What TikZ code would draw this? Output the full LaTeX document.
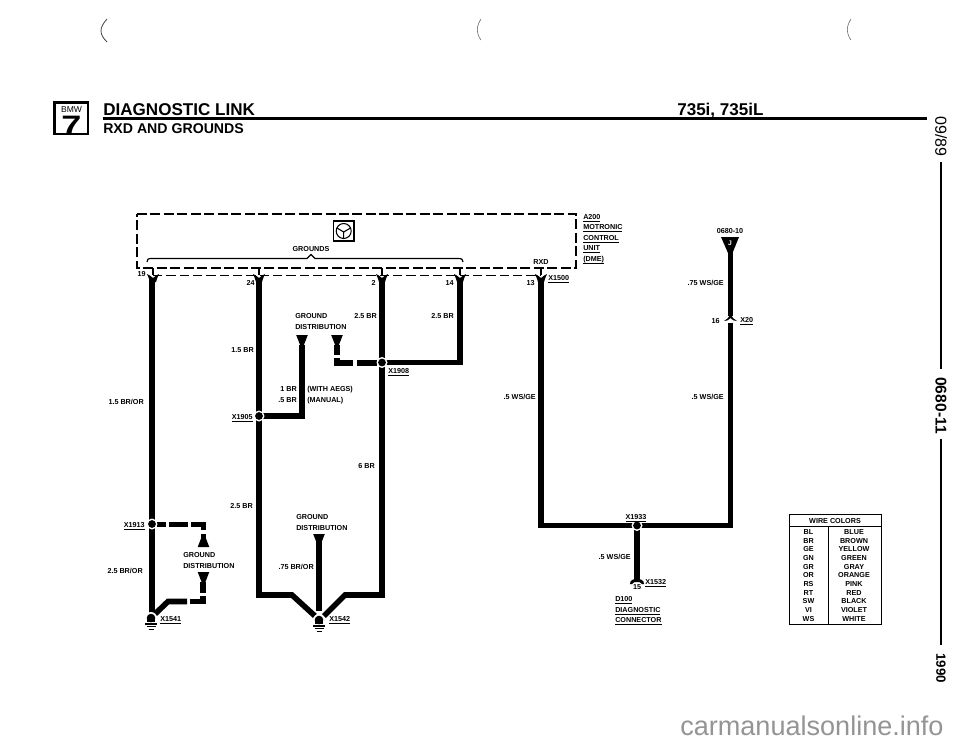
\documentclass[tikz,border=0pt]{standalone}
\usepackage{fontspec}
\setmainfont{Liberation Sans}
\newcommand{\lblsize}{\fontsize{5.4}{6}\selectfont\bfseries}
\newcommand{\cupmark}[2]{%
  \draw[line width=1.4pt] (#1,#2-8) -- (#1,#2-1);
  \fill (#1-6,#2-2) .. controls (#1-4,#2-1) and (#1-2,#2) .. (#1,#2+2) .. controls (#1+2,#2) and (#1+4,#2-1) .. (#1+6,#2-2) .. controls (#1+5,#2+1) and (#1+3.5,#2+3) .. (#1+3,#2+6) -- (#1-3,#2+6) .. controls (#1-3.5,#2+3) and (#1-5,#2+1) .. (#1-6,#2-2) -- cycle;}
\newcommand{\gndmark}[2]{%
  \fill[white] (#1,#2-1) circle (6);
  \fill (#1,#2-1) circle (4.3);
  \fill (#1-4.3,#2-1) rectangle (#1+4.3,#2+3);
  \draw[line width=0.8pt] (#1-6,#2+5) -- (#1+6,#2+5);
  \draw[line width=0.7pt] (#1-4.5,#2+7.5) -- (#1+4.5,#2+7.5);
  \draw[line width=0.6pt] (#1-2.5,#2+10) -- (#1+2.5,#2+10);}
\newcommand{\tridown}[2]{\fill (#1-5.8,#2) -- (#1+5.8,#2) -- (#1+1.5,#2+11) -- (#1-1.5,#2+11) -- cycle;}
\newcommand{\triup}[2]{\fill (#1-5.8,#2) -- (#1+5.8,#2) -- (#1+1.5,#2-11) -- (#1-1.5,#2-11) -- cycle;}
\newcommand{\dotmark}[1]{\fill[white] (#1) circle (5.5); \fill (#1) circle (3.9);}
\tikzset{
  wire/.style={line width=4.2pt,line join=miter},
  boxdash/.style={line width=1.7pt,dash pattern=on 7.5pt off 2.6pt},
  thindash/.style={line width=0.7pt,dash pattern=on 7pt off 3pt},
  lbl/.style={font=\lblsize,inner sep=0pt,anchor=base west},
  lblr/.style={font=\lblsize,inner sep=0pt,anchor=base east},
  lblc/.style={font=\lblsize,inner sep=0pt,anchor=base},
  ul/.style={font=\lblsize,inner sep=0pt,anchor=base west},
  side/.style={inner sep=0pt,rotate=-90},
}
\newcommand{\ulbl}[1]{\underline{\smash{#1}}}
\begin{document}
\begin{tikzpicture}[x=0.75pt,y=-0.75pt]
\useasboundingbox (0,0) rectangle (960,744);
\fill[white] (0,0) rectangle (960,744);

% page marks at top
\draw[line width=0.6pt,black!75] (107,19) .. controls (99,28) and (99,34) .. (107,42);
\draw[line width=0.4pt,black!65] (481,19) .. controls (476,27) and (476,33) .. (481,40);
\draw[line width=0.4pt,black!65] (851,19) .. controls (846,27) and (846,33) .. (851,40);

% header
\draw[line width=2.2pt] (54.5,102.5) rectangle (88,134);
\node[font=\fontsize{6.4}{7}\selectfont,inner sep=0pt] (bmw) at (71.5,110) {BMW};
\node[font=\fontsize{20}{20}\selectfont\bfseries,inner sep=0pt,xscale=1.35] (seven) at (71.5,125) {7};
\node[font=\fontsize{12.8}{14}\selectfont\bfseries,inner sep=0pt,anchor=base west] (title) at (103,115) {DIAGNOSTIC LINK};
\node[font=\fontsize{10.6}{14}\selectfont\bfseries,inner sep=0pt,anchor=base west] (sub) at (103,133) {RXD AND GROUNDS};
\node[font=\fontsize{12.8}{14}\selectfont\bfseries,inner sep=0pt,anchor=base west] (model) at (677,115) {735i, 735iL};
\coordinate (hl) at (103,118.5); \coordinate (hr) at (927,118.5);
\draw[line width=1.6pt] (hl) -- (hr);

% right margin
\node[side,font=\fontsize{12}{13}\selectfont] (d1) at (941,136.5) {09/89};
\node[side,font=\fontsize{11.7}{13}\selectfont\bfseries] (d2) at (941,405.5) {0680-11};
\node[side,font=\fontsize{10}{11}\selectfont\bfseries] (d3) at (941,668) {1990};
\draw[line width=1.3pt] (941,162) -- (941,369);
\draw[line width=1.3pt] (941,439) -- (941,645);

% dashed control unit
\coordinate (b1) at (137,214); \coordinate (b2) at (576,214); \coordinate (b3) at (576,268); \coordinate (b4) at (137,268);
\draw[boxdash] (b1) -- (b2) -- (b3) -- (b4) -- cycle;
\coordinate (t1) at (153,275); \coordinate (t2) at (541,275);
\draw[thindash] (t1) -- (t2);
\draw[line width=1.1pt] (333.5,221) rectangle (354,241);
\draw[line width=0.8pt] (343.7,231) circle (7.5);
\draw[line width=0.8pt] (337,228) -- (343.7,232) -- (350.5,228) (343.7,232) -- (343.7,238);
\draw[line width=0.9pt] (147,262) .. controls (147,259) and (148,258.5) .. (152,258.5) -- (307,258.5) -- (311,254.5) -- (315,258.5) -- (457,258.5) .. controls (462,258.5) and (463,259) .. (463,262);
\node[lblc] (grounds) at (311,251) {GROUNDS};
\node[lblc] (rxd) at (541,264) {RXD};
\node[ul] (a200) at (583,219) {\ulbl{A200}};
\node[ul] (mot) at (583,229.5) {\ulbl{MOTRONIC}};
\node[ul] (ctl) at (583,240) {\ulbl{CONTROL}};
\node[ul] (unit) at (583,250.5) {\ulbl{UNIT}};
\node[ul] (dme) at (583,261) {\ulbl{(DME)}};

% coordinates of the wires
\coordinate (w19a) at (152,279); \coordinate (w19b) at (152,614);
\coordinate (x13) at (152,524);
\coordinate (w24a) at (259,279); \coordinate (w24b) at (259,595); \coordinate (w24c) at (292,595); \coordinate (w24d) at (315,616);
\coordinate (x05) at (259,416);
\coordinate (w2a) at (382,279); \coordinate (w2b) at (382,595); \coordinate (w2c) at (345,595); \coordinate (w2d) at (324,616);
\coordinate (x08) at (382,362.5);
\coordinate (w14a) at (460,279); \coordinate (w14b) at (460,362.5);
\coordinate (w13a) at (541,279); \coordinate (w13b) at (541,525.5); \coordinate (wrb) at (730.5,525.5); \coordinate (wra) at (730.5,250);
\coordinate (x33) at (637,525.5);
\coordinate (wdb) at (637,581);

\draw[wire] (w19a) -- (w19b);
\draw[wire] (w24a) -- (w24b) -- (w24c) -- (w24d);
\draw[wire] (w2a) -- (w2b) -- (w2c) -- (w2d);
\draw[wire] (w14a) -- (w14b) -- (x08);
\draw[wire] (w13a) -- (w13b) -- (x33);
\draw[wire] (x33) -- (wrb) -- (730.5,323);
\draw[wire] (730.5,316) -- (wra);
\draw[wire] (x33) -- (wdb);

% pins
\cupmark{153}{276}\cupmark{259}{276}\cupmark{382}{276}\cupmark{460}{276}\cupmark{541}{276}
\node[lblr] (p19) at (146,276) {19};
\node[lblr] (p24) at (255,285) {24};
\node[lblr] (p2) at (376,285) {2};
\node[lblr] (p14) at (454,285) {14};
\node[lblr] (p13) at (535,285) {13};
\node[ul] (x1500) at (548,280) {\ulbl{X1500}};

% X20 connector
\fill[white] (722,317) rectangle (739,323);
\fill (724,321) .. controls (727,320) and (729,317) .. (730.5,314) .. controls (732,317) and (734,320) .. (737,321) .. controls (734,321) and (732,320) .. (730.5,318) .. controls (729,320) and (727,321) .. (724,321) -- cycle;
\fill (721,237) -- (739,237) -- (732.5,253) -- (728,253) -- cycle;
\node[font=\fontsize{5}{5}\selectfont\bfseries,text=white,inner sep=0pt] (j) at (730,243) {J};
\node[lblc] (c0680) at (730,233) {0680-10};

% ground distribution branches
\coordinate (g1) at (302,345); \coordinate (g2) at (337,345); \coordinate (g2c) at (337,363);
\draw[wire] (x05) -- (302,416) -- (g1);
\tridown{302}{335}\tridown{337}{335}
\draw[wire] (g2) -- (337,355);
\draw[wire] (337,358) -- (g2c) -- (353,363);
\draw[wire] (357,363) -- (377,363);
\draw[wire] (157,524.5) -- (166,524.5);
\draw[wire] (168.5,524.5) -- (188,524.5);
\draw[wire] (191,524.5) -- (203.5,524.5) -- (203.5,530);
\draw[wire] (203.5,534) -- (203.5,540);
\triup{203.5}{547}
\tridown{203.5}{572}
\draw[wire] (203,582) -- (203,593);
\draw[wire] (203,596) -- (203,601.5) -- (190,601.5);
\draw[wire] (187,601.5) -- (168,601.5) -- (155,614);
\draw[wire] (319,541) -- (319,611);
\tridown{319}{534}

% junctions
\dotmark{x13}\dotmark{x05}\dotmark{x08}\dotmark{x33}

% grounds
\gndmark{151}{619}
\gndmark{319}{621}
\node[ul] (x41) at (160,621) {\ulbl{X1541}};
\node[ul] (x42) at (329,621) {\ulbl{X1542}};

% labels
\node[lblr] (l1) at (144,404) {1.5 BR/OR};
\node[lblr] (l2) at (143,573) {2.5 BR/OR};
\node[lblr] (l3) at (254,352) {1.5 BR};
\node[lblr] (l4) at (297,391) {1 BR};
\node[lblr] (l5) at (297,402) {.5 BR};
\node[lbl] (l6) at (307,391) {(WITH AEGS)};
\node[lbl] (l7) at (307,402) {(MANUAL)};
\node[ul] (gd1) at (295,318) {GROUND};
\node[ul] (gd1b) at (295,329) {DISTRIBUTION};
\node[lblr] (l8) at (377,318) {2.5 BR};
\node[lblr] (l9) at (454,318) {2.5 BR};
\node[lblr] (x1905) at (253,419) {\ulbl{X1905}};
\node[ul] (x1908) at (388,373) {\ulbl{X1908}};
\node[lblr] (x1913) at (145,527) {\ulbl{X1913}};
\node[lblr] (l10) at (375,468) {6 BR};
\node[lblr] (l11) at (253,508) {2.5 BR};
\node[ul] (gd2) at (296,519) {GROUND};
\node[ul] (gd2b) at (296,530) {DISTRIBUTION};
\node[lblr] (l12) at (314,569) {.75 BR/OR};
\node[ul] (gd3) at (183,557) {GROUND};
\node[ul] (gd3b) at (183,568) {DISTRIBUTION};
\node[lblr] (l13) at (536,399) {.5 WS/GE};
\node[lblr] (l14) at (724,399) {.5 WS/GE};
\node[lblr] (l15) at (724,285) {.75 WS/GE};
\node[lblr] (p16) at (720,323) {16};
\node[ul] (x20) at (740,322) {\ulbl{X20}};
\node[lblc] (x1933) at (636,519) {\ulbl{X1933}};
\node[lblr] (l16) at (631,559) {.5 WS/GE};
% X1532 connector
\fill (630,584) .. controls (630,580) and (633,579) .. (637,579) .. controls (641,579) and (644,580) .. (644,584) -- (642,584) .. controls (641,582) and (639,582) .. (637,582) .. controls (635,582) and (633,582) .. (632,584) -- cycle;
\node[lblc] (p15) at (637,589) {15};
\node[ul] (x1532) at (645,584) {\ulbl{X1532}};
\node[ul] (d100) at (615,601) {\ulbl{D100}};
\node[ul] (diag) at (615,612) {\ulbl{DIAGNOSTIC}};
\node[ul] (conn) at (615,622) {\ulbl{CONNECTOR}};

% wire colours table
\draw[line width=0.7pt] (789,514.5) rectangle (881,624);
\draw[line width=0.7pt] (789,526) -- (881,526);
\draw[line width=0.7pt] (828,526) -- (828,624);
\node[lblc] (wc) at (835,523) {WIRE COLORS};
\foreach \a/\b [count=\i from 0] in {BL/BLUE,BR/BROWN,GE/YELLOW,GN/GREEN,GR/GRAY,OR/ORANGE,RS/PINK,RT/RED,SW/BLACK,VI/VIOLET,WS/WHITE}{
  \node[lblc] (ca\i) at (808.5,534.5+8.67*\i) {\a};
  \node[lblc] (cb\i) at (854,534.5+8.67*\i) {\b};
}

% watermark
\node[font=\fontsize{20.3}{21}\selectfont,text=black!42,inner sep=0pt,anchor=base west] (wm) at (680,735) {carmanualsonline.info};
\end{tikzpicture}
\end{document}
